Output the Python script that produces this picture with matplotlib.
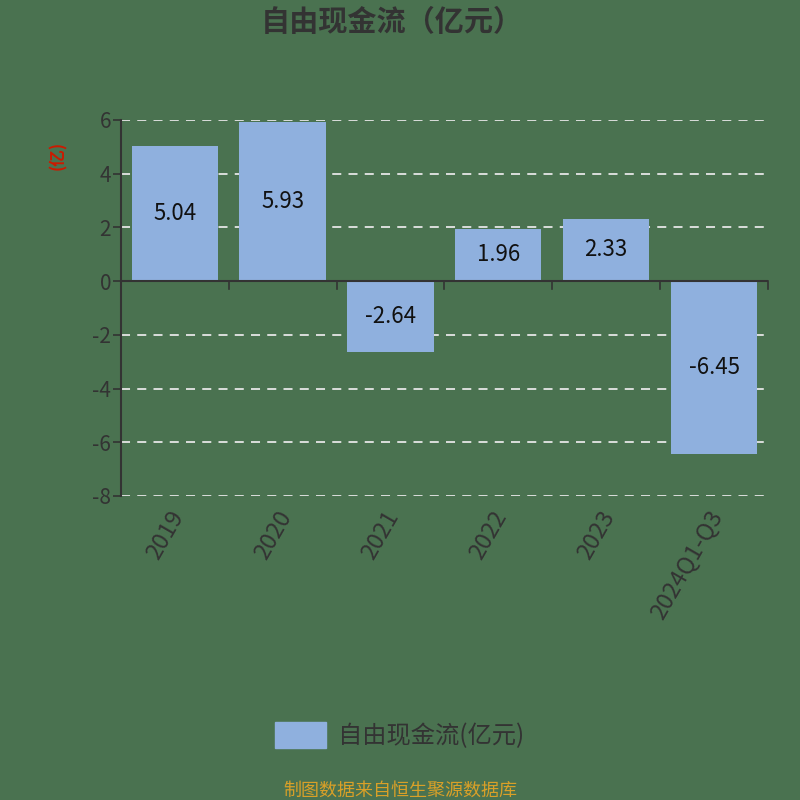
import matplotlib
matplotlib.use("Agg")
import matplotlib.pyplot as plt
from matplotlib.patches import Patch

plt.rcParams['font.family'] = ['Noto Sans CJK SC', 'DejaVu Sans']

categories = ["2019", "2020", "2021", "2022", "2023", "2024Q1-Q3"]
values = [5.04, 5.93, -2.64, 1.96, 2.33, -6.45]
y_ticks = [6, 4, 2, 0, -2, -4, -6, -8]

bg = "#4a7250"
bar_color = "#8fb0de"
dark = "#333333"

fig = plt.figure(figsize=(8, 8), dpi=100)
fig.patch.set_facecolor(bg)
ax = fig.add_axes([0.151, 0.38, 0.809, 0.47])
ax.set_facecolor(bg)

x = list(range(len(categories)))
ax.bar(x, values, width=0.8, color=bar_color, zorder=3)
for xi, v in zip(x, values):
    ax.text(xi, v / 2, f"{v:.2f}", ha="center", va="center", fontsize=16,
            color="#111111", zorder=4)

ax.set_xlim(-0.5, len(categories) - 0.5)
ax.set_ylim(-8, 6)
ax.set_yticks(y_ticks)
ax.set_yticklabels([str(t) for t in y_ticks], fontsize=15, color=dark)
for t in y_ticks:
    if t != 0:
        ax.axhline(t, color="#e6e6e6", linestyle=(0, (5, 4)), linewidth=1.3, zorder=1)

for s in ["top", "right", "bottom"]:
    ax.spines[s].set_visible(False)
ax.spines["left"].set_color(dark)
ax.spines["left"].set_linewidth(1.5)
ax.axhline(0, color=dark, linewidth=1.5, zorder=5)
ax.tick_params(axis="y", length=6, color=dark, width=1.2, pad=1)

# category boundary ticks on zero line
ax.set_xticks([])
for b in range(1, len(categories) + 1):
    ax.plot([b - 0.5, b - 0.5], [0, -0.3], color=dark, linewidth=1.2, zorder=5, clip_on=False)

for xi, c in zip(x, categories):
    ax.text(xi - 0.06, -8.4, c, rotation=60, ha="right", va="top",
            rotation_mode="anchor", fontsize=17, color=dark)

fig.text(0.072, 0.806, "(亿)", rotation=90, color="#cc1a00", fontsize=12,
         fontweight="bold", ha="center", va="center")

fig.text(0.49, 0.972, "自由现金流（亿元）", ha="center", va="center",
         fontsize=21, fontweight="heavy", color=dark)

handles = [Patch(facecolor=bar_color, edgecolor=bar_color, label="自由现金流(亿元)")]
leg = fig.legend(handles=handles, loc="center", bbox_to_anchor=(0.5, 0.081),
                 frameon=False, fontsize=17.5, handlelength=2.1, handleheight=1.3,
                 handletextpad=0.5)
for t in leg.get_texts():
    t.set_color(dark)

fig.text(0.5, 0.012, "制图数据来自恒生聚源数据库", ha="center", va="center",
         fontsize=13, color="#d9a028")

fig.savefig("out.png", dpi=100, facecolor=bg)
